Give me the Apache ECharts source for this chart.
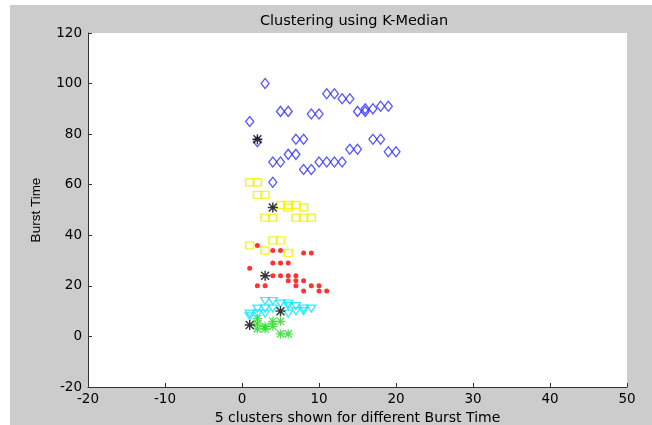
<!DOCTYPE html>
<html><head><meta charset="utf-8">
<script src="https://cdn.jsdelivr.net/npm/echarts@6/dist/echarts.min.js"></script>
<style>html,body{margin:0;padding:0;background:#fff}#c{width:652px;height:425px}</style>
</head><body><div id="c"></div>
<script>
var titleText = "Clustering using K-Median";
var xAxisName = "5 clusters shown for different Burst Time";
var yAxisName = "Burst Time";
var xTicks = [-20, -10, 0, 10, 20, 30, 40, 50];
var yTicks = [-20, 0, 20, 40, 60, 80, 100, 120];

var blueX = [3,1,2,5,6,9,10,11,12,13,14,15,16,16,17,18,19,7,8,6,7,4,5,8,9,10,11,12,13,14,15,17,18,19,20,4];
var blueY = [100,85,77,89,89,88,88,96,96,94,94,89,89,90,90,91,91,78,78,72,72,69,69,66,66,69,69,69,69,74,74,78,78,73,73,61];

var yellowX = [1,2,2,3,5,6,7,8,6,3,4,7,8,9,4,5,1,3,6];
var yellowY = [61,61,56,56,52,52,52,51,51,47,47,47,47,47,38,38,36,34,33];

var redX = [2,4,5,8,9,4,5,6,1,4,5,6,7,6,7,8,2,3,7,9,10,8,10,11];
var redY = [36,34,34,33,33,29,29,29,27,24,24,24,24,22,22,22,20,20,20,20,20,18,18,18];

var cyanX = [3,4,5,6,2,3,4,6,7,8,9,1,2,3,6,7,8,1];
var cyanY = [14,14,13,13,11,11,11,12,12,11,11,9,9,9,9,10,10,8];

var greenX = [2,3,3,4,4,5,5,6,2,2];
var greenY = [7,4,3,6,4,6,1,1,3,5];

var centroidX = [2,4,3,5,1];
var centroidY = [78,51,24,10,4.5];

function pairs(xs, ys){ return xs.map(function(x,i){ return [x, ys[i]]; }); }

var asterisk = 'path://M4.3,0h1.4v10h-1.4z M0,4.3h10v1.4h-10z M1.5,0.5L9.5,8.5L8.5,9.5L0.5,1.5Z M8.5,0.5L9.5,1.5L1.5,9.5L0.5,8.5Z';
var hFont = 'DejaVu Sans';
var vFont = 'Liberation Sans';

var chart = echarts.init(document.getElementById('c'));
chart.setOption({
  backgroundColor: '#ffffff',
  animation: false,
  graphic: [{ type: 'rect', z: -10, shape: { x: 10, y: 5, width: 642, height: 420 }, style: { fill: '#cccccc' } }],
  title: { text: titleText, left: 349, top: 9, textAlign: 'center',
    textStyle: { fontFamily: hFont, fontSize: 14.5, fontWeight: 'normal', color: '#000' } },
  grid: { left: 88, right: 25, top: 33, bottom: 38, show: true, backgroundColor: '#ffffff', borderWidth: 0, containLabel: false, outerBoundsMode: 'none' },
  xAxis: {
    type: 'value', min: -20, max: 50, interval: 10,
    name: xAxisName, nameLocation: 'middle', nameGap: 20,
    nameTextStyle: { fontFamily: hFont, fontSize: 14, color: '#000' },
    axisLine: { show: true, onZero: false, lineStyle: { color: '#333', width: 1 } },
    axisTick: { show: true, inside: true, length: 4, lineStyle: { color: '#333' } },
    axisLabel: { fontFamily: hFont, fontSize: 13.5, color: '#000', margin: 5,
      formatter: function(v){ return xTicks.indexOf(v) >= 0 ? String(v) : ''; } },
    splitLine: { show: false }
  },
  yAxis: {
    type: 'value', min: -20, max: 120, interval: 20,
    name: yAxisName, nameLocation: 'middle', nameGap: 45,
    nameTextStyle: { fontFamily: vFont, fontSize: 13.5, color: '#000' },
    axisLine: { show: true, onZero: false, lineStyle: { color: '#333', width: 1 } },
    axisTick: { show: true, inside: true, length: 4, lineStyle: { color: '#333' } },
    axisLabel: { fontFamily: hFont, fontSize: 13.5, color: '#000', margin: 6,
      formatter: function(v){ return yTicks.indexOf(v) >= 0 ? String(v) : ''; } },
    splitLine: { show: false }
  },
  series: [
    { type: 'scatter', data: pairs(blueX, blueY), symbol: 'diamond', symbolSize: [8, 10],
      itemStyle: { color: 'transparent', borderColor: '#2a2aff', borderWidth: 1.3 } },
    { type: 'scatter', data: pairs(yellowX, yellowY), symbol: 'rect', symbolSize: [8, 7],
      itemStyle: { color: 'transparent', borderColor: '#f2f200', borderWidth: 1.5 } },
    { type: 'scatter', data: pairs(redX, redY), symbol: 'circle', symbolSize: 5,
      itemStyle: { color: '#ff0000' } },
    { type: 'scatter', data: pairs(cyanX, cyanY), symbol: 'triangle', symbolRotate: 180, symbolSize: [9, 7],
      itemStyle: { color: 'transparent', borderColor: '#00e8ff', borderWidth: 1.3 } },
    { type: 'scatter', data: pairs(greenX, greenY), symbol: asterisk, symbolSize: 9,
      itemStyle: { color: '#1fdc1f' } },
    { type: 'scatter', data: pairs(centroidX, centroidY), symbol: asterisk, symbolSize: 10, z: 5,
      itemStyle: { color: '#000000' } }
  ]
});
</script></body></html>
